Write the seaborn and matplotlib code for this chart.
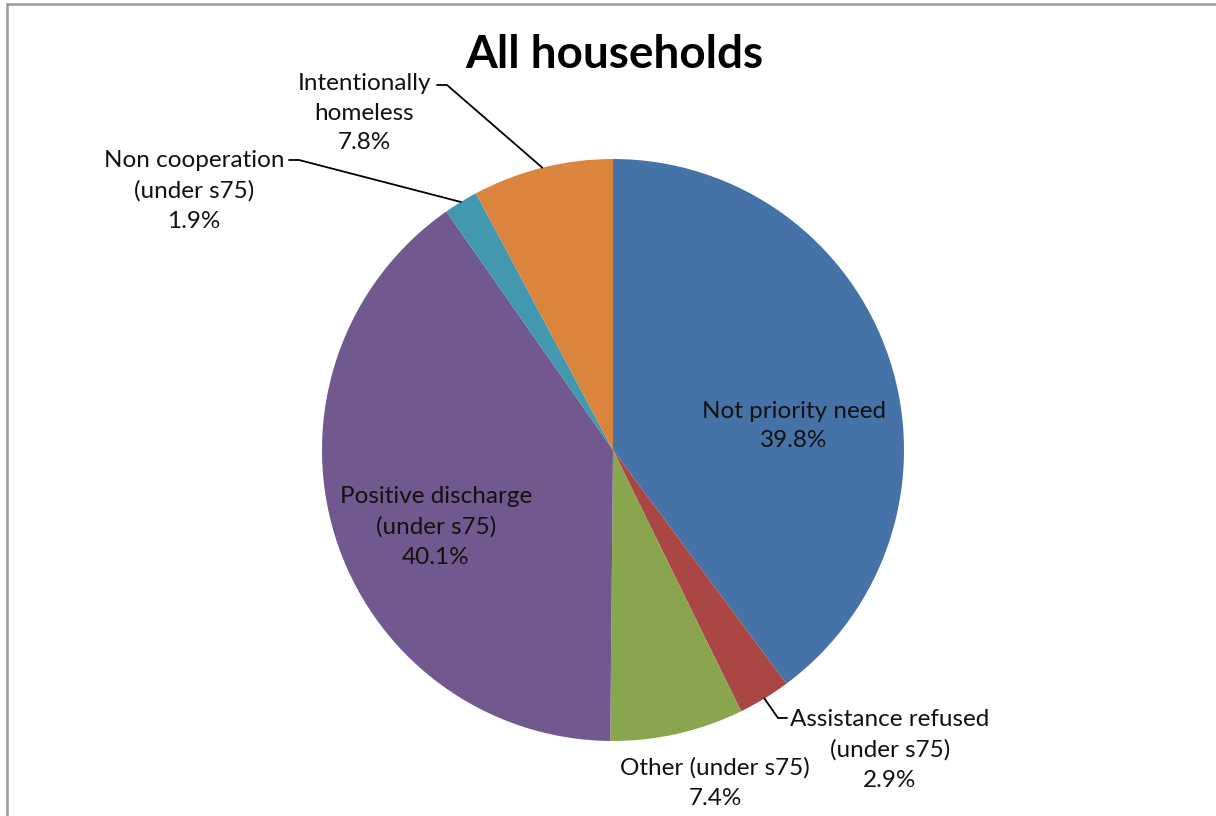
import numpy as np
import matplotlib
matplotlib.use("Agg")
import matplotlib.pyplot as plt
from matplotlib.lines import Line2D
import seaborn as sns

# Outcome shares for all households (percent), clockwise from 12 o'clock
categories = [
    "Not priority need",
    "Assistance refused\n(under s75)",
    "Other (under s75)",
    "Positive discharge\n(under s75)",
    "Non cooperation\n(under s75)",
    "Intentionally\nhomeless",
]
shares = [39.8, 2.9, 7.4, 40.1, 1.9, 7.8]
slice_colors = ["#4572A7", "#AA4643", "#89A54E", "#71588F", "#4198AF", "#DB843D"]

sns.set_theme(style="white")
plt.rcParams["font.family"] = ["Lato", "DejaVu Sans"]

W, H = 1216, 816
fig = plt.figure(figsize=(W / 100, H / 100), dpi=100)
ax = fig.add_axes([0, 0, 1, 1])

def px(x, y):
    """Image-style pixel coords (origin top-left) -> data coords."""
    return x, H - y

cx, cy = px(613, 450)
R = 291
wedges, _ = ax.pie(
    shares,
    colors=sns.color_palette(slice_colors),
    startangle=90,
    counterclock=False,
    center=(cx, cy),
    radius=R,
    wedgeprops=dict(linewidth=0),
)
ax.set_xlim(0, W)
ax.set_ylim(0, H)
ax.set_aspect("equal")
ax.axis("off")

# label placement: text centre, and optional leader elbow + text-side end
layout = {
    0: dict(text=(794, 426)),
    1: dict(text=(890, 750), elbow=(778, 718), end=(787, 718)),
    2: dict(text=(715, 783)),
    3: dict(text=(436, 527)),
    4: dict(text=(194, 191), elbow=(299, 160), end=(289, 160)),
    5: dict(text=(364, 113), elbow=(447, 85), end=(437, 85)),
}

for i, (w, name, val) in enumerate(zip(wedges, categories, shares)):
    spec = layout[i]
    tx, ty = px(*spec["text"])
    ax.text(tx, ty, f"{name}\n{val:.1f}%", ha="center", va="center",
            fontsize=17.5, color="#111111", linespacing=1.52)
    if "elbow" in spec:
        mid = np.deg2rad((w.theta1 + w.theta2) / 2)
        sx, sy = cx + R * np.cos(mid), cy + R * np.sin(mid)
        ex, ey = px(*spec["elbow"])
        fx, fy = px(*spec["end"])
        ax.plot([sx, ex, fx], [sy, ey, fy], color="black", lw=1.3,
                solid_joinstyle="miter")

tx, ty = px(614, 55)
ax.text(tx, ty, "All households", ha="center", va="center",
        fontsize=33, fontweight="bold", color="black")

# chart-area frame (top and left edges)
fig.add_artist(Line2D([6.5 / W, 1.0], [1 - 3.5 / H, 1 - 3.5 / H],
                      transform=fig.transFigure, color="#9a9a9a", lw=1.8))
fig.add_artist(Line2D([6.5 / W, 6.5 / W], [0.0, 1 - 3.5 / H],
                      transform=fig.transFigure, color="#9a9a9a", lw=1.8))

fig.savefig("out.png", dpi=100, facecolor="white")
